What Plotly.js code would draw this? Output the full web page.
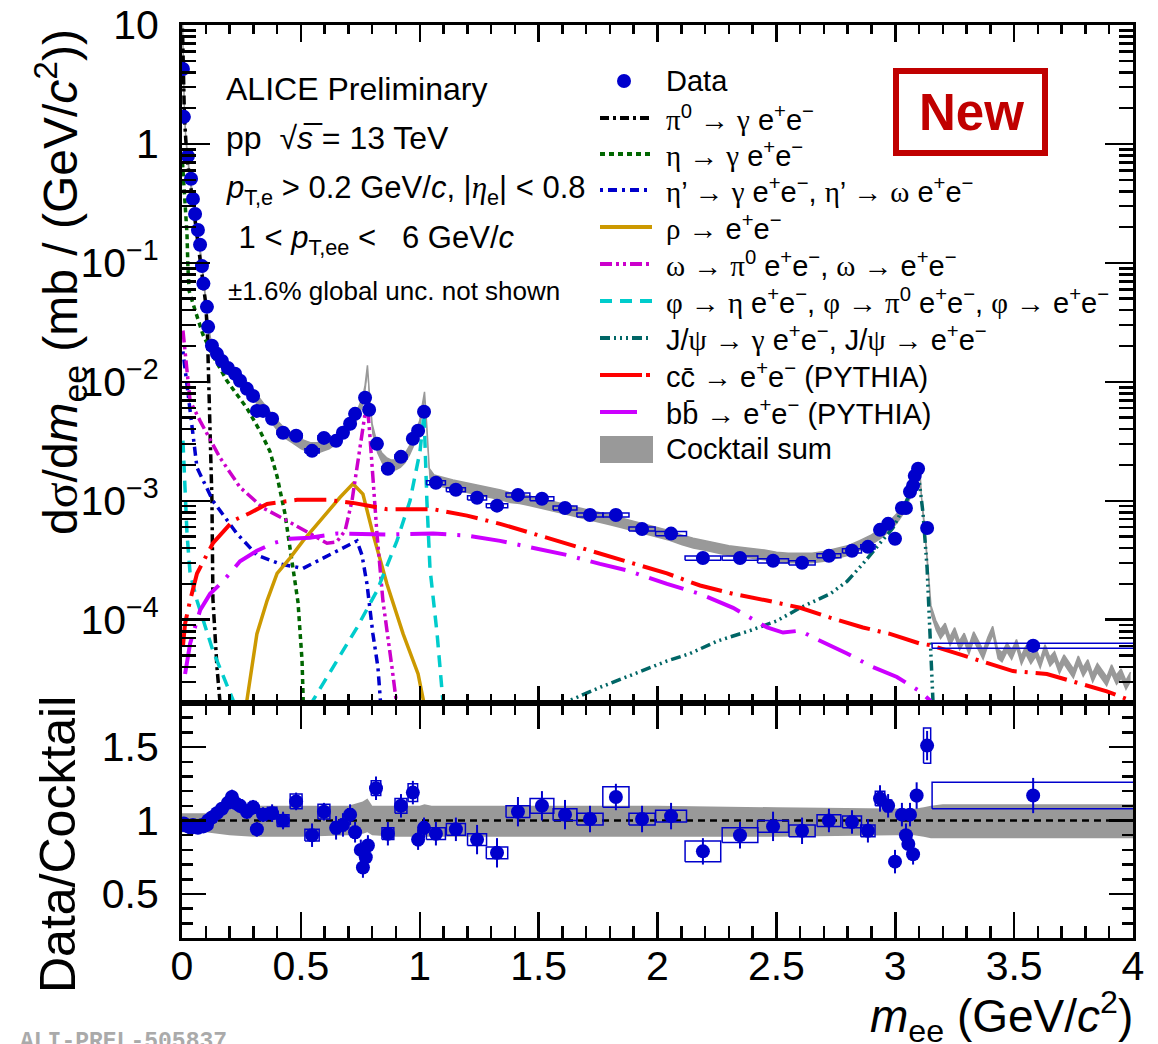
<!DOCTYPE html>
<html><head><meta charset="utf-8">
<script src="https://cdn.plot.ly/plotly-3.0.1.min.js"></script>
<style>html,body{margin:0;padding:0;background:#fff}#plot{width:1158px;height:1044px}</style>
</head><body><div id="plot"></div>
<script>
// ---------------- DATA ----------------
const dataX = [0.004,0.008,0.025,0.038,0.046,0.055,0.067,0.076,0.084,0.090,
 0.105,0.110,0.126,0.147,0.168,0.193,0.223,0.244,0.273,0.299,
 0.315,0.341,0.379,0.425,0.480,0.547,0.597,0.648,0.677,0.707,
 0.728,0.770,0.787,0.820,0.866,0.921,0.971,0.993,1.018,1.068,
 1.152,1.241,1.325,1.413,1.514,1.611,1.716,1.825,1.935,2.057,
 2.191,2.347,2.486,2.608,2.721,2.818,2.885,2.936,2.970,2.999,
 3.028,3.045,3.062,3.075,3.082,3.096,3.134,3.58];
const dataY = [4.27,1.69,0.79,0.51,0.345,0.258,0.189,0.142,0.094,0.067,
 0.0427,0.029,0.0201,0.0172,0.0150,0.0131,0.0117,0.0102,0.00873,0.00762,
 0.0057,0.0057,0.00489,0.00373,0.00352,0.00263,0.00338,0.00319,0.00373,0.00444,
 0.00538,0.00734,0.00582,0.00301,0.00186,0.00234,0.00332,0.00388,0.0056,0.00142,
 0.00124,0.00106,0.00091,0.00112,0.00104,0.00087,0.00076,0.00076,0.00058,0.00053,
 0.00033,0.00033,0.000313,0.000301,0.000345,0.00038,0.00041,0.00057,0.00064,0.00048,
 0.00087,0.00087,0.00119,0.00134,0.00162,0.00186,0.00059,6.05e-5];
const dataStatRel = [0.01,0.01,0.01,0.01,0.01,0.01,0.01,0.01,0.02,0.02,
 0.02,0.02,0.02,0.03,0.03,0.03,0.03,0.03,0.03,0.04,
 0.04,0.04,0.05,0.05,0.05,0.06,0.06,0.06,0.06,0.05,
 0.05,0.05,0.05,0.07,0.07,0.07,0.06,0.05,0.05,0.07,
 0.08,0.08,0.09,0.08,0.08,0.08,0.08,0.08,0.08,0.08,
 0.08,0.08,0.08,0.08,0.07,0.07,0.07,0.06,0.06,0.07,
 0.06,0.06,0.06,0.06,0.06,0.06,0.08,0.12];
const dataSysRel = [0.03,0.03,0.03,0.03,0.03,0.03,0.03,0.03,0.03,0.03,
 0.03,0.03,0.03,0.03,0.03,0.03,0.04,0.04,0.04,0.04,
 0.04,0.04,0.04,0.04,0.04,0.04,0.04,0.04,0.04,0.04,
 0.04,0.04,0.04,0.04,0.04,0.04,0.04,0.04,0.04,0.04,
 0.04,0.04,0.04,0.04,0.04,0.04,0.04,0.04,0.04,0.04,
 0.04,0.04,0.04,0.04,0.04,0.04,0.04,0.04,0.04,0.04,
 0.04,0.04,0.04,0.04,0.04,0.04,0.04,0.05];
const dataBinW = [0.004,0.004,0.008,0.008,0.006,0.008,0.008,0.008,0.006,0.008,
 0.01,0.01,0.02,0.02,0.02,0.025,0.025,0.02,0.025,0.025,
 0.02,0.03,0.04,0.05,0.05,0.06,0.05,0.03,0.02,0.02,
 0.02,0.02,0.02,0.04,0.05,0.05,0.04,0.02,0.02,0.08,
 0.08,0.08,0.09,0.10,0.10,0.10,0.11,0.11,0.11,0.13,
 0.15,0.15,0.13,0.11,0.10,0.08,0.06,0.04,0.03,0.03,
 0.03,0.02,0.015,0.015,0.01,0.015,0.03,0.85];

// cocktail sum (gray band) and its relative uncertainty
const cockX = [0.001,0.005,0.01,0.015,0.02,0.03,0.04,0.05,0.06,0.07,
 0.08,0.09,0.10,0.11,0.12,0.13,0.14,0.16,0.18,0.20,
 0.22,0.24,0.26,0.28,0.30,0.32,0.34,0.36,0.38,0.40,
 0.42,0.44,0.46,0.48,0.50,0.52,0.54,0.56,0.58,0.60,
 0.62,0.64,0.66,0.68,0.70,0.72,0.74,0.76,0.77,0.78,
 0.79,0.80,0.82,0.84,0.86,0.88,0.90,0.92,0.94,0.96,
 0.98,1.00,1.01,1.02,1.03,1.04,1.06,1.10,1.14,1.18,
 1.22,1.26,1.30,1.34,1.38,1.42,1.46,1.50,1.55,1.60,
 1.65,1.70,1.75,1.80,1.85,1.90,1.95,2.00,2.05,2.10,
 2.15,2.20,2.25,2.30,2.35,2.40,2.45,2.50,2.55,2.60,
 2.65,2.70,2.75,2.80,2.85,2.90,2.94,2.98,3.01,3.04,
 3.06,3.08,3.09,3.10,3.105,3.11,3.12,3.13,3.14,3.15,
 3.17,3.19,3.21,3.23,3.25,3.27,3.29,3.31,3.33,3.35,
 3.37,3.39,3.41,3.43,3.45,3.47,3.49,3.51,3.53,3.55,
 3.57,3.59,3.61,3.63,3.65,3.67,3.69,3.71,3.73,3.75,
 3.77,3.79,3.81,3.83,3.85,3.87,3.89,3.91,3.93,3.95,
 3.97,3.99];
const cockY = [12,4.5,1.8,1.1,0.85,0.55,0.4,0.29,0.21,0.155,
 0.105,0.07,0.045,0.028,0.021,0.0185,0.0175,0.0158,0.0142,0.0128,
 0.0117,0.0106,0.0096,0.0087,0.0078,0.0069,0.0061,0.0054,0.0048,0.0043,
 0.0039,0.0036,0.0034,0.0032,0.0030,0.0029,0.0028,0.0028,0.0028,0.0029,
 0.0030,0.0032,0.0034,0.0037,0.0041,0.0046,0.0054,0.0068,0.0085,0.0125,
 0.0065,0.0040,0.0028,0.0023,0.0021,0.0020,0.0020,0.0021,0.0023,0.0027,
 0.0033,0.0043,0.0057,0.0075,0.0038,0.0017,0.00150,0.00142,0.00136,0.00131,
 0.00126,0.00120,0.00117,0.00112,0.00106,0.00104,0.00100,0.00096,0.00091,0.00086,
 0.00081,0.00077,0.00073,0.00069,0.00065,0.00061,0.00058,0.00054,0.00051,0.00047,
 0.00044,0.00042,0.00040,0.00038,0.00037,0.00036,0.00035,0.000335,0.00033,0.00033,
 0.00033,0.00034,0.00036,0.00038,0.00042,0.00047,0.00053,0.00062,0.00072,0.00088,
 0.0011,0.0014,0.00165,0.0018,0.0015,0.0010,0.00065,0.0004,0.00022,0.00012,
 9.0e-5,7.5e-5,8.5e-5,6.5e-5,7.8e-5,6.0e-5,7.0e-5,5.5e-5,7.2e-5,6.0e-5,
 5.0e-5,6.5e-5,8.0e-5,5.2e-5,4.8e-5,5.8e-5,5.0e-5,6.2e-5,4.5e-5,5.5e-5,
 4.6e-5,5.3e-5,4.2e-5,5.6e-5,4.4e-5,4.9e-5,3.8e-5,4.6e-5,4.0e-5,3.5e-5,
 4.5e-5,3.6e-5,4.2e-5,3.2e-5,3.9e-5,3.4e-5,3.0e-5,3.8e-5,3.1e-5,3.5e-5,
 2.8e-5,3.3e-5];
const cockRelUnc = 0.10;

// cocktail components
const pi0X = [0.001,0.005,0.01,0.02,0.03,0.04,0.05,0.06,0.07,0.08,0.09,0.10,0.107,0.114,0.12,0.126,0.13,0.14,0.147,0.16];
const pi0Y = [12,4.3,1.7,0.8,0.55,0.4,0.27,0.19,0.14,0.095,0.065,0.045,0.025,0.008,0.003,0.001,0.00015,7e-5,4e-5,2e-5];
const etaX = [0.002,0.008,0.013,0.021,0.025,0.03,0.055,0.088,0.126,0.189,0.273,0.33,0.37,0.40,0.433,0.467,0.488,0.505,0.512];
const etaY = [0.7,0.47,0.29,0.175,0.091,0.058,0.04,0.025,0.0172,0.0102,0.006,0.0038,0.0026,0.0016,7.8e-4,2.75e-4,1.4e-4,4.5e-5,1.5e-5];
const etaPrX = [0.004,0.034,0.063,0.13,0.231,0.315,0.412,0.509,0.593,0.677,0.736,0.757,0.778,0.803,0.824,0.84];
const etaPrY = [0.018,0.0057,0.0019,0.001,5.3e-4,3.5e-4,2.95e-4,2.7e-4,3.3e-4,4.0e-4,4.6e-4,3.5e-4,2.0e-4,7.6e-5,4e-5,1.5e-5];
const rhoX = [0.25,0.273,0.315,0.358,0.40,0.454,0.509,0.593,0.665,0.719,0.761,0.803,0.862,0.93,0.993,1.03];
const rhoY = [5e-6,2.1e-5,7.6e-5,1.45e-4,2.45e-4,3.3e-4,4.6e-4,7.2e-4,1.07e-3,1.39e-3,1.14e-3,5.3e-4,2.0e-4,7.6e-5,3.5e-5,1.5e-5];
const omegaX = [0.004,0.034,0.076,0.16,0.244,0.341,0.442,0.538,0.61,0.65,0.686,0.715,0.736,0.757,0.770,0.782,0.79,0.82,0.845,0.883,0.91];
const omegaY = [0.027,0.0069,0.0047,0.0023,0.0013,8.7e-4,6.8e-4,5.3e-4,4.4e-4,4.5e-4,5.6e-4,1e-3,1.9e-3,3.6e-3,5.4e-3,5.6e-3,3.6e-3,5.3e-4,1.45e-4,4e-5,1.5e-5];
const phiX = [0.004,0.021,0.034,0.063,0.13,0.215,0.30,0.50,0.551,0.652,0.736,0.82,0.904,0.959,1.001,1.018,1.03,1.043,1.073,1.10];
const phiY = [3.2e-3,5.3e-4,2.45e-4,1.45e-4,5.5e-5,2.1e-5,5e-6,5e-6,2.1e-5,4.5e-5,8.6e-5,1.75e-4,4.6e-4,1e-3,2.6e-3,5.4e-3,1e-3,2.7e-4,7.6e-5,1.8e-5];
const jpsiX = [1.60,1.632,1.758,1.897,2.04,2.137,2.25,2.389,2.503,2.6,2.726,2.797,2.864,2.936,2.99,3.033,3.075,3.097,3.117,3.134,3.146,3.16];
const jpsiY = [1.5e-5,2.1e-5,2.7e-5,3.5e-5,4.5e-5,5.2e-5,6.6e-5,8.1e-5,9.8e-5,1.26e-4,1.65e-4,2.1e-4,2.95e-4,4.4e-4,5.9e-4,8.7e-4,1.29e-3,1.7e-3,7.8e-4,2.7e-4,7.6e-5,1.8e-5];
const ccX = [0.004,0.013,0.034,0.063,0.13,0.215,0.286,0.358,0.484,0.61,0.719,0.862,1.056,1.199,1.338,1.476,1.619,1.758,1.897,2.04,2.179,2.318,2.461,2.6,2.726,2.864,2.978,3.104,3.15,3.26,3.386,3.495,3.638,3.777,3.89,3.987];
const ccY = [6e-5,9.3e-5,1.45e-4,2.45e-4,4.4e-4,6.8e-4,7.9e-4,9.4e-4,1.02e-3,1.02e-3,9.6e-4,8.5e-4,8.5e-4,7.5e-4,6.4e-4,5.3e-4,4.4e-4,3.6e-4,2.95e-4,2.45e-4,1.94e-4,1.65e-4,1.45e-4,1.26e-4,1.04e-4,8.6e-5,7.6e-5,6.3e-5,6.1e-5,5.2e-5,4.4e-5,3.7e-5,3.5e-5,2.9e-5,2.5e-5,2.1e-5];
const bbX = [0.013,0.034,0.076,0.118,0.172,0.244,0.315,0.383,0.454,0.538,0.652,0.862,1.056,1.199,1.338,1.476,1.619,1.758,1.872,2.04,2.179,2.318,2.389,2.461,2.528,2.6,2.654,2.797,2.906,3.007,3.104,3.146,3.17];
const bbY = [3.5e-5,6.3e-5,1.2e-4,1.65e-4,2.1e-4,3.1e-4,3.8e-4,4.4e-4,4.8e-4,4.9e-4,5.3e-4,5.2e-4,5.3e-4,5.1e-4,4.6e-4,4.0e-4,3.5e-4,2.95e-4,2.6e-4,2.0e-4,1.65e-4,1.26e-4,1.04e-4,8.6e-5,7.8e-5,8.1e-5,7.1e-5,5.2e-5,4.0e-5,3.3e-5,2.5e-5,2.1e-5,1.5e-5];

// ratio panel
const ratioX = [0.004,0.008,0.025,0.038,0.046,0.055,0.067,0.076,0.084,0.090,
 0.105,0.110,0.126,0.147,0.168,0.193,0.210,0.223,0.244,0.273,
 0.299,0.315,0.341,0.379,0.425,0.480,0.547,0.597,0.648,0.677,
 0.707,0.728,0.752,0.761,0.773,0.782,0.816,0.866,0.921,0.971,
 0.993,1.018,1.068,1.152,1.241,1.325,1.413,1.514,1.611,1.716,
 1.825,1.935,2.057,2.191,2.347,2.486,2.608,2.721,2.818,2.885,
 2.936,2.970,2.999,3.028,3.045,3.055,3.062,3.075,3.090,3.134,
 3.58];
const ratioY = [0.97,0.98,0.96,0.95,0.97,0.96,0.95,0.96,0.97,0.96,
 0.97,1.00,1.02,1.05,1.08,1.12,1.16,1.12,1.10,1.06,
 1.09,0.94,1.04,1.05,1.00,1.13,0.90,1.06,0.95,0.97,
 1.04,0.92,0.80,0.68,0.75,0.83,1.22,0.91,1.10,1.19,
 0.87,0.95,0.91,0.94,0.87,0.78,1.06,1.10,1.04,1.01,
 1.16,1.01,1.03,0.79,0.90,0.96,0.93,1.00,0.99,0.93,
 1.15,1.10,0.72,1.04,0.90,0.84,1.04,0.77,1.17,1.51,
 1.17];
const ratioStat = [0.02,0.02,0.02,0.02,0.02,0.02,0.02,0.02,0.02,0.02,
 0.03,0.03,0.03,0.04,0.04,0.05,0.05,0.05,0.05,0.05,
 0.05,0.05,0.05,0.06,0.06,0.06,0.08,0.06,0.08,0.08,
 0.07,0.07,0.07,0.07,0.07,0.07,0.08,0.08,0.08,0.08,
 0.07,0.07,0.08,0.08,0.10,0.10,0.10,0.10,0.10,0.09,
 0.09,0.09,0.09,0.09,0.09,0.10,0.09,0.08,0.08,0.08,
 0.09,0.08,0.08,0.08,0.08,0.08,0.08,0.07,0.09,0.10,
 0.12];
const ratioSys = [0.02,0.02,0.02,0.02,0.02,0.02,0.02,0.02,0.02,0.02,
 0.02,0.02,0.03,0.03,0.03,0.03,0.04,0.04,0.04,0.04,
 0.04,0.03,0.04,0.04,0.04,0.05,0.04,0.05,0.04,0.04,
 0.04,0.04,0.03,0.03,0.03,0.03,0.05,0.04,0.05,0.06,
 0.04,0.04,0.04,0.04,0.04,0.04,0.04,0.05,0.04,0.04,
 0.07,0.04,0.04,0.07,0.05,0.04,0.04,0.04,0.04,0.04,
 0.05,0.04,0.03,0.03,0.03,0.03,0.03,0.03,0.04,0.12,
 0.09];
const ratioBinW = [0.004,0.004,0.008,0.008,0.006,0.008,0.008,0.008,0.006,0.008,
 0.01,0.01,0.02,0.02,0.02,0.02,0.01,0.015,0.02,0.025,
 0.025,0.02,0.03,0.04,0.05,0.05,0.06,0.05,0.03,0.02,
 0.02,0.02,0.008,0.008,0.008,0.008,0.04,0.05,0.05,0.04,
 0.02,0.02,0.08,0.08,0.08,0.09,0.10,0.10,0.10,0.11,
 0.11,0.11,0.13,0.15,0.15,0.13,0.11,0.10,0.08,0.06,
 0.04,0.03,0.03,0.03,0.02,0.015,0.015,0.01,0.015,0.03,
 0.85];
const bandX  = [0,0.1,0.15,0.2,0.3,0.5,0.7,0.76,0.78,0.8,0.9,1.0,1.02,1.05,1.5,2.0,2.5,3.0,3.08,3.12,3.15,3.2,4.0];
const bandHi = [1.05,1.05,1.07,1.09,1.10,1.10,1.10,1.13,1.15,1.10,1.10,1.10,1.11,1.10,1.10,1.10,1.09,1.08,1.08,1.09,1.10,1.11,1.11];
const bandLo = [0.92,0.92,0.91,0.90,0.89,0.89,0.90,0.91,0.92,0.90,0.89,0.89,0.89,0.89,0.89,0.89,0.89,0.90,0.90,0.89,0.88,0.88,0.88];
const unityX = [0,4];
const unityY = [1,1];

// tick labels
const logTickVals = [1e-4,1e-3,1e-2,1e-1,1,10];
const logTickText = ['10<sup>\u22124</sup>','10<sup>\u22123</sup>','10<sup>\u22122</sup>','10<sup>\u22121</sup>','1','10'];
const xTickVals = [0,0.5,1,1.5,2,2.5,3,3.5,4];
const xTickText = ['0','0.5','1','1.5','2','2.5','3','3.5','4'];
const rTickVals = [0.5,1,1.5];
const rTickText = ['0.5','1','1.5'];

// ---------------- STYLE / LAYOUT ----------------
const FONT = 'Liberation Sans, Arial, Helvetica, sans-serif';
const SERIF = "Liberation Serif, 'Times New Roman', serif";
const BLUE = '#0000cc';
const W = 1158, H = 1044, L = 182, R = 1133, T = 25, B = 938, SPLIT = 703;
const px = v => (v - L) / (R - L);
const py = v => (B - v) / (B - T);
const ySplit = py(SPLIT);
const g = s => `<span style="font-family:${SERIF}">${s}</span>`;
const ee = 'e<sup>+</sup>e<sup>\u2212</sup>';
const arr = '\u2192';

function boxTrace(xs, ys, ws, lo, hi, xa, ya) {
  const bx = [], by = [];
  for (let i = 0; i < xs.length; i++) {
    const x0 = xs[i] - ws[i] / 2, x1 = xs[i] + ws[i] / 2;
    const y0 = lo(i), y1 = hi(i);
    bx.push(x0, x1, x1, x0, x0, null);
    by.push(y0, y0, y1, y1, y0, null);
  }
  return {x: bx, y: by, xaxis: xa, yaxis: ya, mode: 'lines', type: 'scatter',
    line: {color: BLUE, width: 1.5}, hoverinfo: 'skip', showlegend: false};
}
function comp(x, y, color, dash, width) {
  return {x, y, xaxis: 'x', yaxis: 'y', type: 'scatter', mode: 'lines',
    line: {color, dash, width: width || 3.5}, showlegend: false, hoverinfo: 'skip'};
}
const compStyles = {
  pi0: ['#000000', '9px,4px,3px,4px'],
  eta: ['#006600', '5px,4px'],
  etaPr: ['#0000cc', '3px,5px,9px,5px'],
  rho: ['#cc9900', 'solid'],
  omega: ['#cc00cc', '12px,4px,3px,4px,3px,4px'],
  phi: ['#00cccc', '12px,8px'],
  jpsi: ['#006666', '10px,4px,2px,4px,2px,4px,2px,4px'],
  cc: ['#ff0000', '32px,8px,3px,8px'],
  bb: ['#cc00ff', '36px,11px,3px,11px']
};

const traces = [
  {x: cockX, y: cockY.map(v => v * (1 - cockRelUnc)), xaxis: 'x', yaxis: 'y', type: 'scatter', mode: 'lines',
   line: {width: 0, color: 'rgba(0,0,0,0)'}, showlegend: false, hoverinfo: 'skip'},
  {x: cockX, y: cockY.map(v => v * (1 + cockRelUnc)), xaxis: 'x', yaxis: 'y', type: 'scatter', mode: 'lines',
   line: {width: 1.5, color: '#999999'}, fill: 'tonexty', fillcolor: '#999999', showlegend: false, hoverinfo: 'skip'},
  comp(pi0X, pi0Y, ...compStyles.pi0),
  comp(etaX, etaY, ...compStyles.eta),
  comp(etaPrX, etaPrY, ...compStyles.etaPr),
  comp(rhoX, rhoY, ...compStyles.rho),
  comp(omegaX, omegaY, ...compStyles.omega),
  comp(phiX, phiY, ...compStyles.phi),
  comp(jpsiX, jpsiY, ...compStyles.jpsi),
  comp(ccX, ccY, ...compStyles.cc, 4),
  comp(bbX, bbY, ...compStyles.bb, 4),
  boxTrace(dataX, dataY, dataBinW, i => dataY[i] * (1 - dataSysRel[i]), i => dataY[i] * (1 + dataSysRel[i]), 'x', 'y'),
  {x: dataX, y: dataY, xaxis: 'x', yaxis: 'y', type: 'scatter', mode: 'markers',
   marker: {color: BLUE, size: 14, symbol: 'circle'},
   error_y: {type: 'data', array: dataY.map((v, i) => v * dataStatRel[i]), visible: true, color: BLUE, thickness: 2, width: 0},
   showlegend: false, hoverinfo: 'skip'},
  // ratio panel
  {x: bandX, y: bandLo, xaxis: 'x2', yaxis: 'y2', type: 'scatter', mode: 'lines',
   line: {width: 0, color: 'rgba(0,0,0,0)'}, showlegend: false, hoverinfo: 'skip'},
  {x: bandX, y: bandHi, xaxis: 'x2', yaxis: 'y2', type: 'scatter', mode: 'lines',
   line: {width: 0, color: 'rgba(0,0,0,0)'}, fill: 'tonexty', fillcolor: '#999999', showlegend: false, hoverinfo: 'skip'},
  {x: unityX, y: unityY, xaxis: 'x2', yaxis: 'y2', type: 'scatter', mode: 'lines',
   line: {color: '#000', width: 2.5, dash: '7px,5px'}, showlegend: false, hoverinfo: 'skip'},
  boxTrace(ratioX, ratioY, ratioBinW, i => ratioY[i] - ratioSys[i], i => ratioY[i] + ratioSys[i], 'x2', 'y2'),
  {x: ratioX, y: ratioY, xaxis: 'x2', yaxis: 'y2', type: 'scatter', mode: 'markers',
   marker: {color: BLUE, size: 14, symbol: 'circle'},
   error_y: {type: 'data', array: ratioStat, visible: true, color: BLUE, thickness: 2, width: 0},
   showlegend: false, hoverinfo: 'skip'}
];

const minorLog = [];
for (let e = -5; e <= 0; e++) for (let m = 2; m <= 9; m++) minorLog.push(m * Math.pow(10, e));

const axCommon = {showline: true, linewidth: 3, linecolor: '#000', mirror: 'allticks', showgrid: false, zeroline: false,
  ticks: 'inside', tickwidth: 2.5, tickcolor: '#000', tickfont: {family: FONT, size: 41, color: '#000'}};

// legend layout (pixel rows)
const legRows = [81, 118, 154, 190, 227, 264, 301, 338, 375, 412, 449];
const legTexts = [
  'Data',
  g('\u03c0') + '<sup>0</sup> ' + arr + ' ' + g('\u03b3') + ' ' + ee,
  g('\u03b7') + ' ' + arr + ' ' + g('\u03b3') + ' ' + ee,
  g('\u03b7') + '\u2019 ' + arr + ' ' + g('\u03b3') + ' ' + ee + ', ' + g('\u03b7') + '\u2019 ' + arr + ' ' + g('\u03c9') + ' ' + ee,
  g('\u03c1') + ' ' + arr + ' ' + ee,
  g('\u03c9') + ' ' + arr + ' ' + g('\u03c0') + '<sup>0</sup> ' + ee + ', ' + g('\u03c9') + ' ' + arr + ' ' + ee,
  g('\u03c6') + ' ' + arr + ' ' + g('\u03b7') + ' ' + ee + ', ' + g('\u03c6') + ' ' + arr + ' ' + g('\u03c0') + '<sup>0</sup> ' + ee + ', ' + g('\u03c6') + ' ' + arr + ' ' + ee,
  'J/' + g('\u03c8') + ' ' + arr + ' ' + g('\u03b3') + ' ' + ee + ', J/' + g('\u03c8') + ' ' + arr + ' ' + ee,
  'cc\u0304 ' + arr + ' ' + ee + ' (PYTHIA)',
  'bb\u0304 ' + arr + ' ' + ee + ' (PYTHIA)',
  'Cocktail sum'
];
const legLine = [null, compStyles.pi0, compStyles.eta, compStyles.etaPr, compStyles.rho, compStyles.omega,
  compStyles.phi, compStyles.jpsi, ['#ff0000', '42px,4px,4px,20px'], ['#cc00ff', 'solid'], null];

const shapes = [];
const annotations = [];
legRows.forEach((yy, i) => {
  annotations.push({xref: 'paper', yref: 'paper', x: px(664), y: py(yy), xanchor: 'left', yanchor: 'middle',
    text: legTexts[i], showarrow: false, font: {family: FONT, size: 29, color: '#000'}});
  if (legLine[i]) {
    const x1 = (i === 9) ? 637 : 652;
    shapes.push({type: 'line', xref: 'paper', yref: 'paper', x0: px(600), x1: px(x1), y0: py(yy), y1: py(yy),
      line: {color: legLine[i][0], width: 4, dash: legLine[i][1]}});
  }
});
shapes.push({type: 'circle', xref: 'paper', yref: 'paper', x0: px(617), x1: px(631), y0: py(88), y1: py(74),
  fillcolor: BLUE, line: {width: 0}});
shapes.push({type: 'rect', xref: 'paper', yref: 'paper', x0: px(600), x1: px(653), y0: py(463), y1: py(436),
  fillcolor: '#999999', line: {width: 0}});
// "New" box
shapes.push({type: 'rect', xref: 'paper', yref: 'paper', x0: px(896), x1: px(1045), y0: py(153), y1: py(71),
  fillcolor: 'rgba(0,0,0,0)', line: {color: '#c00000', width: 6}});
annotations.push({xref: 'paper', yref: 'paper', x: px(971), y: py(112), xanchor: 'center', yanchor: 'middle',
  text: '<b>New</b>', showarrow: false, font: {family: FONT, size: 51, color: '#c00000'}});

// text block
const txt = [
  [224, 89, 32, 'ALICE Preliminary'],
  [224, 138, 32, 'pp  \u221a<i>s</i>\u0305 = 13 TeV'],
  [224, 190, 31, '<i>p</i><sub>T,e</sub> &gt; 0.2 GeV/<i>c</i>, |<i>' + g('\u03b7') + '</i><sub>e</sub>| &lt; 0.8'],
  [228, 240, 31, ' 1 &lt; <i>p</i><sub>T,ee</sub> &lt;   6 GeV/<i>c</i>'],
  [226, 291, 26, '\u00b11.6% global unc. not shown']
];
txt.forEach(t => annotations.push({xref: 'paper', yref: 'paper', x: px(t[0]), y: py(t[1]), xanchor: 'left', yanchor: 'middle',
  text: t[3], showarrow: false, font: {family: FONT, size: t[2], color: '#000'}}));

// axis titles
annotations.push({xref: 'paper', yref: 'paper', x: px(60), y: py(282), xanchor: 'center', yanchor: 'middle', textangle: -90,
  text: 'd' + g('\u03c3') + '/d<i>m</i><sub>ee</sub> (mb / (GeV/<i>c</i><sup>2</sup>))', showarrow: false,
  font: {family: FONT, size: 48, color: '#000'}});
annotations.push({xref: 'paper', yref: 'paper', x: px(58), y: py(845), xanchor: 'center', yanchor: 'middle', textangle: -90,
  text: 'Data/Cocktail', showarrow: false, font: {family: FONT, size: 50, color: '#000'}});
annotations.push({xref: 'paper', yref: 'paper', x: px(1135), y: py(1016), xanchor: 'right', yanchor: 'middle',
  text: '<i>m</i><sub>ee</sub> (GeV/<i>c</i><sup>2</sup>)', showarrow: false, font: {family: FONT, size: 46, color: '#000'}});
// watermark
annotations.push({xref: 'paper', yref: 'paper', x: px(18), y: py(1027), xanchor: 'left', yanchor: 'top',
  text: '<b>ALI-PREL-505837</b>', showarrow: false, font: {family: 'Liberation Mono, DejaVu Sans Mono, monospace', size: 23, color: '#aaaaaa'}});

const layout = {
  width: W, height: H, autosize: false,
  margin: {l: L, r: W - R, t: T, b: H - B, pad: 0},
  paper_bgcolor: '#fff', plot_bgcolor: '#fff',
  showlegend: false,
  font: {family: FONT, color: '#000'},
  xaxis: Object.assign({}, axCommon, {domain: [0, 1], anchor: 'y', range: [0, 4], showticklabels: false,
    tickmode: 'array', tickvals: xTickVals, ticklen: 17,
    minor: {ticks: 'inside', ticklen: 9, dtick: 0.1, tick0: 0, tickwidth: 2.5, tickcolor: '#000'}}),
  yaxis: Object.assign({}, axCommon, {domain: [ySplit, 1], anchor: 'x', type: 'log', range: [-4.7, 1],
    tickmode: 'array', tickvals: logTickVals, ticktext: logTickText, ticklen: 28, ticklabelstandoff: 12,
    minor: {ticks: 'inside', ticklen: 14, tickmode: 'array', tickvals: minorLog, tickwidth: 2.5, tickcolor: '#000'}}),
  xaxis2: Object.assign({}, axCommon, {domain: [0, 1], anchor: 'y2', range: [0, 4],
    tickmode: 'array', tickvals: xTickVals, ticktext: xTickText, ticklen: 26, ticklabelstandoff: -10,
    minor: {ticks: 'inside', ticklen: 12, dtick: 0.1, tick0: 0, tickwidth: 2.5, tickcolor: '#000'}}),
  yaxis2: Object.assign({}, axCommon, {domain: [0, ySplit], anchor: 'x2', range: [0.2, 1.8],
    tickmode: 'array', tickvals: rTickVals, ticktext: rTickText, ticklen: 24, ticklabelstandoff: 12,
    minor: {ticks: 'inside', ticklen: 11, dtick: 0.1, tick0: 0, tickwidth: 2.5, tickcolor: '#000'}}),
  shapes, annotations
};

Plotly.newPlot('plot', traces, layout, {staticPlot: true, displayModeBar: false});
</script>
</body></html>
